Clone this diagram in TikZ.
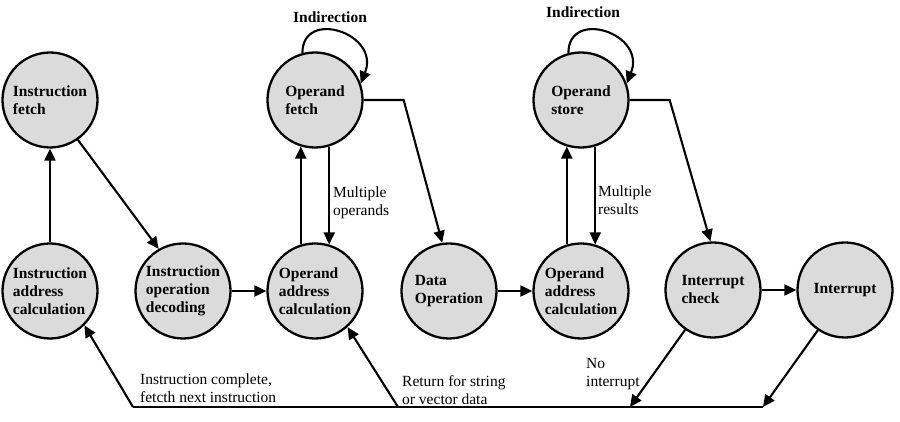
\documentclass[tikz,border=0pt]{standalone}
\usepackage{fontspec}
\setmainfont{Liberation Serif}
\usetikzlibrary{arrows.meta}

\begin{document}
\begin{tikzpicture}[x=1pt, y=1pt,
    state/.style={circle, draw, line width=2.3pt, fill=black!14, minimum size=95pt, inner sep=0pt, align=left, font=\bfseries\fontsize{15.5}{18}\selectfont},
    lbl/.style={align=left, anchor=west, inner sep=0pt, font=\fontsize{15.5}{18}\selectfont},
    flow/.style={line width=2.1pt, -{Triangle[length=12pt, width=11pt]}}]
    \useasboundingbox (0, 0) rectangle (900, 422);

    \node[state] (ifetch) at (50, 322) {Instruction\\fetch};
    \node[state] (iaddr) at (50, 131) {Instruction\\address\\calculation};
    \node[state] (idecode) at (183, 131) {Instruction\\operation\\decoding};
    \node[state] (oaddr) at (315, 131) {Operand\\address\\calculation};
    \node[state] (ofetch) at (315, 322) {Operand\\fetch};
    \node[state] (dataop) at (449, 131) {Data\\Operation};
    \node[state] (oaddrb) at (581, 131) {Operand\\address\\calculation};
    \node[state] (ostore) at (581, 322) {Operand\\store};
    \node[state] (icheck) at (713, 132) {Interrupt\\check};
    \node[state] (intr) at (845, 132) {Interrupt};

    \node[font=\bfseries\fontsize{15.5}{18}\selectfont] (indfetch) at (330, 405) {Indirection};
    \node[font=\bfseries\fontsize{15.5}{18}\selectfont] (indstore) at (583, 410) {Indirection};

    \draw[flow] (iaddr) -- (ifetch);
    \draw[flow] (ifetch.-55) -- (idecode.120);
    \draw[flow] (idecode) -- (oaddr);
    \draw[flow] (oaddr.107) -- (ofetch.253);
    \draw[flow] (ofetch.287) -- (oaddr.73);
    \draw[flow] (ofetch.105) .. controls +(0, 45) and +(20, 50) .. (ofetch.20);
    \draw[flow] (ofetch.east) -- ++(40, 0) -- (dataop.98);
    \draw[flow] (dataop) -- (oaddrb);
    \draw[flow] (oaddrb.107) -- (ostore.253);
    \draw[flow] (ostore.287) -- (oaddrb.73);
    \draw[flow] (ostore.105) .. controls +(0, 45) and +(20, 50) .. (ostore.20);
    \draw[flow] (ostore.east) -- ++(40, 0) -- (icheck.93);
    \draw[flow] (icheck) -- (intr);

    \node[lbl] (mops) at (333, 219) {Multiple\\operands};
    \node[lbl] (mres) at (598, 222) {Multiple\\results};

    % return paths along the bottom
    \coordinate (bl) at (133, 15);
    \coordinate (bm) at (398, 15);
    \coordinate (bn) at (630, 15);
    \coordinate (br) at (763, 15);

    \draw[flow] (intr.-124) -- (br);
    \draw[flow] (icheck.-125) -- (bn);
    \draw[line width=2.1pt] (br) -- (bl);
    \draw[flow] (bl) -- (iaddr.-45);
    \draw[flow] (bm) -- (oaddr.-48);

    \node[lbl] (done) at (140, 34) {Instruction complete,\\fetcth next instruction};
    \node[lbl] (again) at (402, 32) {Return for string\\or vector data};
    \node[lbl] (noint) at (586, 48) {No\\interrupt};
\end{tikzpicture}
\end{document}
